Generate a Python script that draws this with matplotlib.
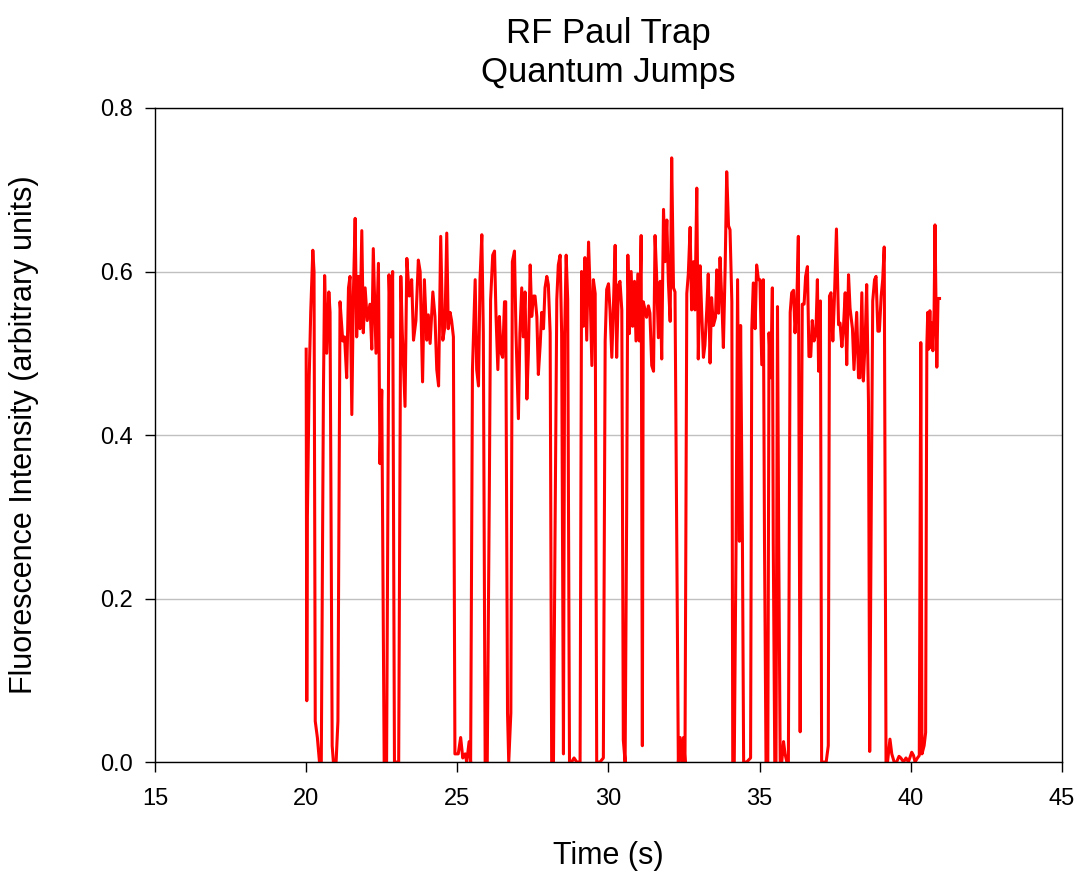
import matplotlib
matplotlib.use("Agg")
import matplotlib.pyplot as plt
import numpy as np

plt.rcParams['font.family'] = ['Liberation Sans', 'DejaVu Sans']

# time (s) and fluorescence
time_s = [
    20.00, 20.02, 20.04, 20.10, 20.15, 20.22, 20.26, 20.30, 20.37, 20.44, 20.50,
    20.57, 20.61, 20.68, 20.75, 20.79, 20.86, 20.90, 20.99, 21.05, 21.12, 21.21,
    21.27, 21.34, 21.40, 21.45, 21.51, 21.56, 21.62, 21.67, 21.73, 21.78, 21.84,
    21.89, 21.95, 22.02, 22.11, 22.17, 22.22, 22.31, 22.39, 22.44, 22.50, 22.58,
    22.66, 22.74, 22.80, 22.86, 22.92, 22.99, 23.06, 23.13, 23.18, 23.27, 23.33,
    23.41, 23.49, 23.55, 23.63, 23.71, 23.77, 23.85, 23.91, 23.99, 24.04, 24.10,
    24.19, 24.26, 24.32, 24.38, 24.45, 24.52, 24.59, 24.65, 24.70, 24.76, 24.81,
    24.87, 24.92, 25.03, 25.11, 25.18, 25.26, 25.31, 25.39, 25.44, 25.50, 25.59,
    25.64, 25.70, 25.75, 25.81, 25.86, 25.92, 25.99, 26.06, 26.10, 26.17, 26.23,
    26.28, 26.34, 26.39, 26.45, 26.50, 26.56, 26.60, 26.66, 26.70, 26.77, 26.82,
    26.89, 26.94, 27.02, 27.07, 27.13, 27.18, 27.24, 27.30, 27.35, 27.41, 27.46,
    27.52, 27.57, 27.63, 27.68, 27.74, 27.79, 27.85, 27.90, 27.96, 28.01, 28.07,
    28.12, 28.18, 28.23, 28.29, 28.34, 28.40, 28.45, 28.51, 28.55, 28.60, 28.65,
    28.71, 28.78, 28.86, 28.95, 29.06, 29.11, 29.17, 29.22, 29.28, 29.34, 29.39,
    29.45, 29.50, 29.56, 29.61, 29.72, 29.83, 29.89, 29.94, 30.00, 30.05, 30.11,
    30.16, 30.22, 30.27, 30.33, 30.38, 30.44, 30.49, 30.55, 30.60, 30.64, 30.69,
    30.75, 30.80, 30.86, 30.91, 30.97, 31.02, 31.08, 31.12, 31.15, 31.21, 31.26,
    31.32, 31.37, 31.43, 31.49, 31.54, 31.59, 31.65, 31.71, 31.76, 31.82, 31.87,
    31.93, 31.98, 32.04, 32.09, 32.15, 32.20, 32.31, 32.37, 32.42, 32.48, 32.53,
    32.59, 32.64, 32.70, 32.75, 32.81, 32.86, 32.92, 32.97, 33.03, 33.08, 33.14,
    33.19, 33.25, 33.30, 33.36, 33.41, 33.47, 33.54, 33.58, 33.64, 33.69, 33.75,
    33.80, 33.86, 33.91, 33.97, 34.02, 34.08, 34.11, 34.16, 34.22, 34.27, 34.33,
    34.37, 34.43, 34.47, 34.57, 34.70, 34.74, 34.79, 34.85, 34.90, 34.96, 35.01,
    35.07, 35.12, 35.16, 35.21, 35.27, 35.31, 35.37, 35.42, 35.45, 35.50, 35.54,
    35.59, 35.63, 35.68, 35.73, 35.79, 35.84, 35.90, 35.95, 36.01, 36.06, 36.12,
    36.17, 36.23, 36.28, 36.31, 36.34, 36.37, 36.41, 36.47, 36.52, 36.58, 36.63,
    36.69, 36.74, 36.80, 36.86, 36.91, 36.95, 37.01, 37.05, 37.11, 37.20, 37.27,
    37.31, 37.36, 37.42, 37.47, 37.54, 37.61, 37.66, 37.72, 37.77, 37.83, 37.88,
    37.94, 37.99, 38.07, 38.12, 38.21, 38.27, 38.32, 38.38, 38.43, 38.49, 38.54,
    38.60, 38.64, 38.69, 38.74, 38.80, 38.85, 38.91, 38.96, 39.02, 39.07, 39.12,
    39.18, 39.23, 39.31, 39.37, 39.45, 39.53, 39.61, 39.67, 39.76, 39.84, 39.92,
    40.03, 40.09, 40.14, 40.22, 40.28, 40.33, 40.37, 40.44, 40.49, 40.53, 40.56,
    40.59, 40.63, 40.66, 40.69, 40.73, 40.77, 40.80, 40.84, 40.86, 40.90, 40.95,
]
fluor = [
    0.505, 0.075, 0.30, 0.470, 0.550, 0.626, 0.600, 0.050, 0.030, 0.000, 0.000,
    0.450, 0.595, 0.500, 0.575, 0.550, 0.020, 0.000, 0.000, 0.050, 0.563, 0.515,
    0.520, 0.470, 0.580, 0.594, 0.425, 0.570, 0.665, 0.520, 0.594, 0.530, 0.650,
    0.525, 0.580, 0.540, 0.560, 0.505, 0.628, 0.500, 0.610, 0.365, 0.455, 0.000,
    0.000, 0.596, 0.520, 0.600, 0.000, 0.000, 0.000, 0.594, 0.525, 0.435, 0.616,
    0.570, 0.590, 0.516, 0.540, 0.614, 0.600, 0.465, 0.590, 0.516, 0.547, 0.512,
    0.575, 0.545, 0.480, 0.460, 0.643, 0.516, 0.533, 0.647, 0.530, 0.550, 0.540,
    0.520, 0.010, 0.010, 0.030, 0.005, 0.010, 0.000, 0.025, 0.000, 0.480, 0.590,
    0.480, 0.460, 0.590, 0.645, 0.525, 0.000, 0.000, 0.340, 0.565, 0.620, 0.625,
    0.545, 0.480, 0.545, 0.500, 0.495, 0.563, 0.563, 0.060, 0.000, 0.060, 0.612,
    0.625, 0.525, 0.420, 0.525, 0.580, 0.520, 0.575, 0.444, 0.500, 0.608, 0.545,
    0.570, 0.570, 0.545, 0.474, 0.510, 0.550, 0.530, 0.580, 0.594, 0.584, 0.525,
    0.000, 0.000, 0.270, 0.566, 0.608, 0.620, 0.524, 0.010, 0.524, 0.620, 0.566,
    0.000, 0.000, 0.005, 0.000, 0.000, 0.600, 0.533, 0.617, 0.516, 0.636, 0.578,
    0.485, 0.590, 0.573, 0.000, 0.000, 0.005, 0.515, 0.578, 0.585, 0.553, 0.495,
    0.553, 0.632, 0.495, 0.583, 0.588, 0.553, 0.027, 0.000, 0.300, 0.620, 0.524,
    0.600, 0.533, 0.588, 0.515, 0.597, 0.515, 0.644, 0.020, 0.563, 0.553, 0.544,
    0.558, 0.549, 0.485, 0.478, 0.644, 0.597, 0.519, 0.588, 0.493, 0.676, 0.612,
    0.663, 0.588, 0.539, 0.739, 0.580, 0.575, 0.000, 0.030, 0.000, 0.030, 0.000,
    0.573, 0.597, 0.654, 0.553, 0.612, 0.553, 0.702, 0.493, 0.607, 0.553, 0.495,
    0.510, 0.553, 0.597, 0.488, 0.568, 0.534, 0.544, 0.602, 0.549, 0.617, 0.563,
    0.507, 0.607, 0.722, 0.656, 0.651, 0.563, 0.000, 0.000, 0.270, 0.590, 0.270,
    0.534, 0.270, 0.000, 0.000, 0.005, 0.530, 0.586, 0.530, 0.608, 0.590, 0.590,
    0.486, 0.590, 0.270, 0.000, 0.000, 0.525, 0.470, 0.580, 0.270, 0.000, 0.000,
    0.557, 0.270, 0.000, 0.000, 0.025, 0.010, 0.000, 0.000, 0.550, 0.574, 0.577,
    0.525, 0.564, 0.643, 0.300, 0.037, 0.300, 0.560, 0.560, 0.594, 0.606, 0.496,
    0.496, 0.540, 0.515, 0.525, 0.590, 0.478, 0.564, 0.000, 0.000, 0.000, 0.020,
    0.570, 0.574, 0.515, 0.564, 0.652, 0.535, 0.537, 0.508, 0.530, 0.574, 0.486,
    0.596, 0.555, 0.530, 0.480, 0.550, 0.470, 0.470, 0.574, 0.466, 0.515, 0.584,
    0.440, 0.013, 0.300, 0.564, 0.590, 0.594, 0.527, 0.527, 0.570, 0.590, 0.630,
    0.000, 0.000, 0.028, 0.010, 0.000, 0.000, 0.007, 0.005, 0.000, 0.005, 0.000,
    0.012, 0.008, 0.000, 0.005, 0.008, 0.513, 0.010, 0.020, 0.036, 0.509, 0.550,
    0.505, 0.552, 0.507, 0.537, 0.503, 0.552, 0.657, 0.535, 0.483, 0.567, 0.567,
]

x_ticks = [15, 20, 25, 30, 35, 40, 45]
y_ticks = [0.0, 0.2, 0.4, 0.6, 0.8]

fig = plt.figure(figsize=(10.81, 8.73), dpi=100)
ax = fig.add_axes([0.1434, 0.1271, 0.8390, 0.7492])

ax.plot(time_s, fluor, color='#ff0000', linewidth=2.2, solid_joinstyle='round')

ax.set_xlim(15, 45)
ax.set_ylim(0, 0.8)
ax.set_xticks(x_ticks)
ax.set_yticks(y_ticks)
ax.set_yticklabels([f"{v:.1f}" for v in y_ticks])
ax.tick_params(direction='out', length=7, width=1, labelsize=17, colors='black')
ax.tick_params(axis='x', pad=12)
ax.tick_params(axis='y', pad=9)
ax.grid(axis='y', color='#c0c0c0', linewidth=1)
ax.set_axisbelow(True)
for s in ax.spines.values():
    s.set_linewidth(1)

ax.set_xlabel('Time (s)', fontsize=22, labelpad=22)
ax.set_ylabel('Fluorescence Intensity (arbitrary units)', fontsize=22, labelpad=44)
ax.set_title('RF Paul Trap\nQuantum Jumps', fontsize=25, pad=19)

fig.savefig('out.png', dpi=100)
